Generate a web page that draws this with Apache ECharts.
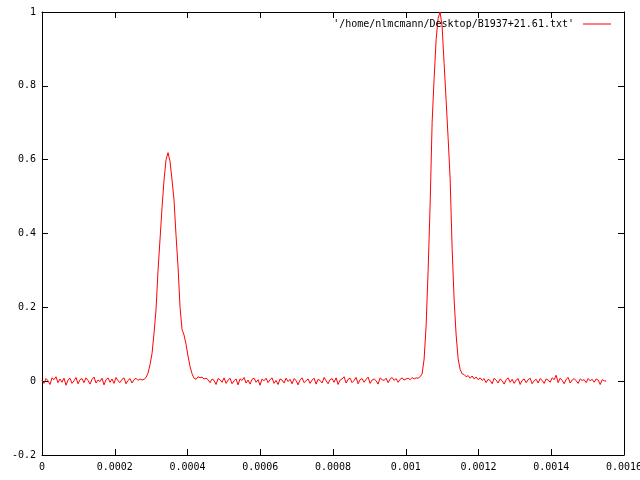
<!DOCTYPE html>
<html>
<head>
<meta charset="utf-8">
<script src="https://cdn.jsdelivr.net/npm/echarts@6/dist/echarts.min.js"></script>
<style>html,body{margin:0;padding:0;background:#fff}#c{width:640px;height:480px}</style>
</head>
<body>
<div id="c"></div>
<script>
// Sample spacing (seconds per bin) and series name
var sampleStep = 0.0000055;
var seriesName = "'/home/nlmcmann/Desktop/B1937+21.61.txt'";
var xTicks = [0, 0.0002, 0.0004, 0.0006, 0.0008, 0.001, 0.0012, 0.0014, 0.0016];
var yTicks = [-0.2, 0, 0.2, 0.4, 0.6, 0.8, 1];

// Read-off values, segment by segment
var noiseA = [0.002,-0.006,0.007,0.001,-0.009,0.009,0.004,0.012,-0.004,0.006,
-0.003,0.008,-0.011,0.003,0.008,-0.006,0.001,0.010,-0.007,0.004,
0.007,-0.004,0.009,0.002,-0.008,0.005,0.011,-0.005,0.003,-0.001,
0.008,-0.010,0.004,0.009,-0.003,0.006,-0.006,0.010,0.001,-0.004,
0.005,0.009,-0.007,0.002,0.007,-0.005,0.004,0.008,0.002,0.006];
var peak1 = [0.003,0.005,0.010,0.022,0.045,0.075,0.130,0.195,0.300,0.385,0.470,0.545,0.600,0.619,0.595,0.545,0.490,0.395,0.310,0.200,0.140,0.125,0.100,0.068,0.040,0.020,0.008,0.005];
var noiseB = [0.012,0.009,0.011,0.006,0.008,0.004,
-0.004,0.006,0.002,-0.009,0.007,0.004,-0.003,0.009,-0.006,0.003,
0.008,-0.007,0.001,0.006,-0.010,0.006,0.002,0.010,-0.005,0.003,
-0.008,0.005,0.008,-0.003,0.004,-0.011,0.006,0.001,0.008,-0.004,
0.004,0.009,-0.006,0.002,-0.009,0.006,0.003,-0.005,0.008,-0.001,
0.005,-0.007,0.007,0.002,-0.010,0.004,0.009,-0.004,0.001,0.006,
-0.006,0.003,0.008,-0.008,0.005,0.002,-0.005,0.010,0.001,-0.007,
0.004,0.007,-0.003,0.009,-0.009,0.003,0.006,0.012,-0.005,0.005,
0.008,-0.004,0.002,0.010,-0.007,0.004,0.007,-0.003,0.005,0.011,
-0.006,0.003,0.006,0.001,-0.008,0.009,0.004,0.002,0.008,-0.004,
0.006,0.010,0.002,0.007,-0.003,0.005,0.009,0.003,0.006,0.008,
0.004,0.010,0.006,0.009];
var peak2 = [0.008,0.012,0.020,0.060,0.150,0.300,0.477,0.700,0.820,0.925,0.983,1.000,0.960,0.860,0.760,0.658,0.549,0.360,0.220,0.125,0.061,0.032,0.020,0.018,0.012];
var noiseC = [0.015,0.008,0.014,0.006,0.011,0.004,0.009,0.002,
0.007,-0.004,0.005,0.002,-0.007,0.008,0.003,-0.005,0.006,0.001,
-0.008,0.004,0.009,-0.003,0.005,-0.006,0.003,0.007,-0.009,0.002,
0.006,-0.004,0.004,0.008,-0.007,0.001,0.005,-0.005,0.007,0.002,
-0.006,0.006,0.003,-0.003,0.009,0.004,0.016,-0.004,0.008,0.002,
-0.007,0.005,0.010,-0.005,0.003,0.007,0.001,-0.006,0.006,0.002,
0.004,-0.004,0.007,0.001,0.005,-0.003,0.006,0.003,-0.009,0.004,
0.001,0.000];

var yValues = [].concat(noiseA, peak1, noiseB, peak2, noiseC);
var data = yValues.map(function (v, i) { return [i * sampleStep, v]; });

var font = 'DejaVu Sans Mono';
function fmt(v) { return String(+(+v).toFixed(4)); }

var chart = echarts.init(document.getElementById('c'), null, {renderer: 'canvas'});
var lineStyle = {color: '#000', width: 1};
chart.setOption({
  animation: false,
  backgroundColor: '#fff',
  grid: {left: 42, right: 16, top: 12, bottom: 25, containLabel: false, outerBoundsMode: 'none'},
  legend: {
    right: 24, top: 14, align: 'right',
    icon: 'rect', itemWidth: 28, itemHeight: 1,
    textStyle: {fontFamily: font, fontSize: 10, color: '#000', padding: [0, 4, 0, 0]},
    data: [seriesName]
  },
  xAxis: [{
    type: 'value', min: xTicks[0], max: xTicks[xTicks.length - 1], interval: 0.0002,
    axisLine: {show: true, onZero: false, lineStyle: lineStyle},
    axisTick: {show: true, inside: true, length: 6, lineStyle: lineStyle},
    splitLine: {show: false},
    axisLabel: {fontFamily: font, fontSize: 10, color: '#000', margin: 7, formatter: fmt, showMaxLabel: true, hideOverlap: false}
  }, {
    type: 'value', position: 'top', min: xTicks[0], max: xTicks[xTicks.length - 1], interval: 0.0002,
    axisLine: {show: true, onZero: false, lineStyle: lineStyle},
    axisTick: {show: true, inside: true, length: 6, lineStyle: lineStyle},
    splitLine: {show: false}, axisLabel: {show: false}
  }],
  yAxis: [{
    type: 'value', min: yTicks[0], max: yTicks[yTicks.length - 1], interval: 0.2,
    axisLine: {show: true, onZero: false, lineStyle: lineStyle},
    axisTick: {show: true, inside: true, length: 6, lineStyle: lineStyle},
    splitLine: {show: false},
    axisLabel: {fontFamily: font, fontSize: 10, color: '#000', margin: 6, formatter: fmt}
  }, {
    type: 'value', position: 'right', min: yTicks[0], max: yTicks[yTicks.length - 1], interval: 0.2,
    axisLine: {show: true, onZero: false, lineStyle: lineStyle},
    axisTick: {show: true, inside: true, length: 6, lineStyle: lineStyle},
    splitLine: {show: false}, axisLabel: {show: false}
  }],
  series: [{
    name: seriesName, type: 'line', data: data,
    xAxisIndex: 0, yAxisIndex: 0,
    showSymbol: false, symbol: 'none',
    lineStyle: {color: '#ff0000', width: 1},
    itemStyle: {color: '#ff0000'}
  }]
});
</script>
</body>
</html>
